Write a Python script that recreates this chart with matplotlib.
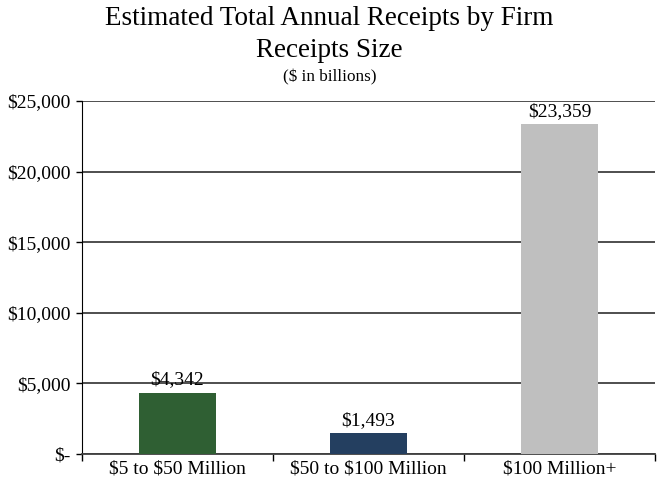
import matplotlib.pyplot as plt
import numpy as np
from matplotlib.ticker import FuncFormatter, FixedLocator

categories = ["\\$5 to \\$50 Million", "\\$50 to \\$100 Million", "\\$100 Million+"]
receipts = [4342, 1493, 23359]
bar_colors = ["#2f5f33", "#243f60", "#bfbfbf"]
yticks = [0, 5000, 10000, 15000, 20000, 25000]

plt.rcParams['font.family'] = ['Liberation Serif', 'DejaVu Serif']

fig = plt.figure(figsize=(6.59, 4.86), dpi=100)
ax = fig.add_axes([0.1244, 0.0658, 0.8696, 0.7262])

x = np.arange(len(categories))
bars = ax.bar(x, receipts, width=0.4, color=bar_colors, zorder=3)

for xi, v in zip(x, receipts):
    ax.annotate("\\${:,}".format(v), (xi, v), xytext=(0, 3), textcoords="offset points",
                ha="center", va="bottom", fontsize=14, zorder=4)

ax.set_xlim(-0.5, 2.5)
ax.set_ylim(0, 25000)
ax.set_yticks(yticks)
ax.yaxis.set_major_formatter(FuncFormatter(lambda v, p: "\\$-" if v == 0 else "\\${:,.0f}".format(v)))
ax.grid(axis="y", color="#404040", linewidth=1.3, zorder=1)

ax.set_xticks(x)
ax.set_xticklabels(categories, fontsize=14)
ax.xaxis.set_minor_locator(FixedLocator([-0.5, 0.5, 1.5, 2.5]))
ax.tick_params(axis="x", which="major", length=0, pad=5)
ax.tick_params(axis="x", which="minor", length=5, width=1, color="black")
ax.tick_params(axis="y", length=4, width=1, labelsize=14, pad=4)

for s in ["top", "right"]:
    ax.spines[s].set_visible(False)
ax.spines["left"].set_color("black")
ax.spines["bottom"].set_color("#404040")
ax.spines["bottom"].set_linewidth(1.3)

fig.text(0.5, 0.962, "Estimated Total Annual Receipts by Firm", ha="center", va="center", fontsize=19.5)
fig.text(0.5, 0.897, "Receipts Size", ha="center", va="center", fontsize=19.5)
fig.text(0.5, 0.840, "(\\$ in billions)", ha="center", va="center", fontsize=12.3)

fig.savefig("out.png", dpi=100)
